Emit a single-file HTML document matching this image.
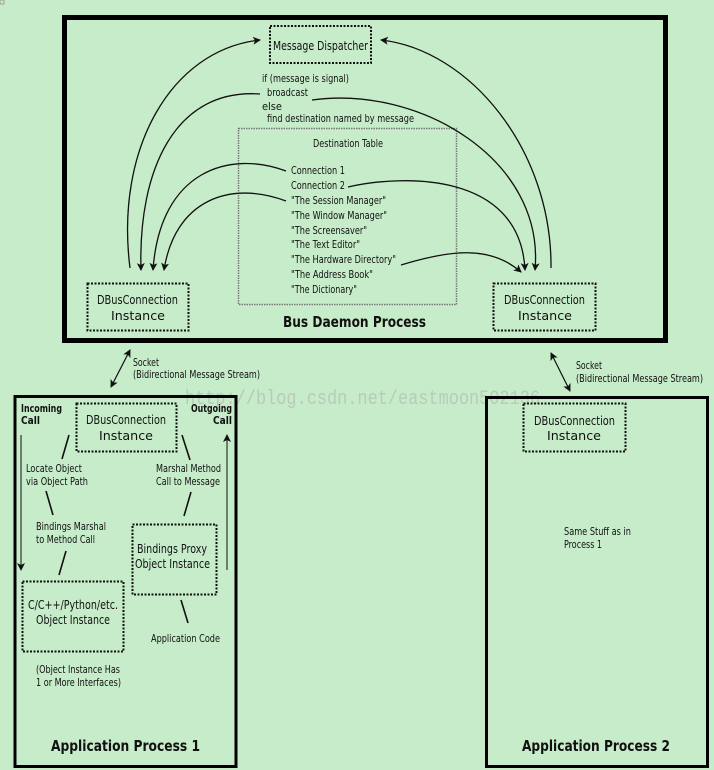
<!DOCTYPE html>
<html><head><meta charset="utf-8"><style>
html,body{margin:0;padding:0;background:#c7ecca;}
svg{display:block}
text{font-family:"DejaVu Sans","Liberation Sans",sans-serif;fill:#111;}
</style></head><body>
<svg width="714" height="770" viewBox="0 0 714 770" xmlns="http://www.w3.org/2000/svg">
<defs>
<marker id="a" markerWidth="8" markerHeight="8" refX="7" refY="4" orient="auto-start-reverse" markerUnits="userSpaceOnUse">
<path d="M0,0 L8,4 L0,8 L2,4 Z" fill="#111"/></marker>
</defs>
<rect width="714" height="770" fill="#c7ecca"/>
<rect x="0" y="0" width="4" height="4" fill="none" stroke="#888" stroke-width="0.7"/>
<!-- Bus daemon -->
<rect x="64.5" y="17.5" width="601" height="323" fill="none" stroke="#000" stroke-width="5"/>
<rect x="270" y="26" width="101" height="37" fill="none" stroke="#111" stroke-width="2" stroke-dasharray="2,1.5"/>
<text x="273" y="50" font-size="12.5" textLength="95" lengthAdjust="spacingAndGlyphs">Message Dispatcher</text>
<g font-size="10.5">
<text x="262" y="82" textLength="87" lengthAdjust="spacingAndGlyphs">if (message is signal)</text>
<text x="267" y="96" textLength="41" lengthAdjust="spacingAndGlyphs">broadcast</text>
<text x="262" y="110" textLength="20" lengthAdjust="spacingAndGlyphs">else</text>
<text x="267" y="122" textLength="147" lengthAdjust="spacingAndGlyphs">find destination named by message</text>
</g>
<rect x="238.5" y="128.5" width="218" height="176" fill="none" stroke="#777" stroke-width="1.5" stroke-dasharray="1.5,1"/>
<text x="313" y="147" font-size="10.5" textLength="70" lengthAdjust="spacingAndGlyphs">Destination Table</text>
<g font-size="10.5">
<text x="291" y="174" textLength="54" lengthAdjust="spacingAndGlyphs">Connection 1</text>
<text x="291" y="189" textLength="54" lengthAdjust="spacingAndGlyphs">Connection 2</text>
<text x="291" y="204" textLength="95" lengthAdjust="spacingAndGlyphs">"The Session Manager"</text>
<text x="291" y="219" textLength="96" lengthAdjust="spacingAndGlyphs">"The Window Manager"</text>
<text x="291" y="234" textLength="76" lengthAdjust="spacingAndGlyphs">"The Screensaver"</text>
<text x="291" y="248" textLength="69" lengthAdjust="spacingAndGlyphs">"The Text Editor"</text>
<text x="291" y="263" textLength="105" lengthAdjust="spacingAndGlyphs">"The Hardware Directory"</text>
<text x="291" y="278" textLength="82" lengthAdjust="spacingAndGlyphs">"The Address Book"</text>
<text x="291" y="293" textLength="66" lengthAdjust="spacingAndGlyphs">"The Dictionary"</text>
</g>
<rect x="87.5" y="283.5" width="101" height="47" fill="none" stroke="#111" stroke-width="2" stroke-dasharray="2,1.5"/>
<text x="97" y="304" font-size="12" textLength="81" lengthAdjust="spacingAndGlyphs">DBusConnection</text>
<text x="111" y="320" font-size="12" textLength="54" lengthAdjust="spacingAndGlyphs">Instance</text>
<rect x="493.5" y="283.5" width="102" height="47" fill="none" stroke="#111" stroke-width="2" stroke-dasharray="2,1.5"/>
<text x="504" y="304" font-size="12" textLength="81" lengthAdjust="spacingAndGlyphs">DBusConnection</text>
<text x="518" y="320" font-size="12" textLength="54" lengthAdjust="spacingAndGlyphs">Instance</text>
<text x="283" y="327" font-size="15" font-weight="bold" textLength="143" lengthAdjust="spacingAndGlyphs">Bus Daemon Process</text>
<g fill="none" stroke="#111" stroke-width="1.3">
<path d="M130,268 C115,150 170,50 260,40" marker-end="url(#a)"/>
<path d="M551,268 C552,150 470,50 381,40" marker-end="url(#a)"/>
<path d="M260,94 C175,88 138,170 141,270" marker-end="url(#a)"/>
<path d="M312,100 C420,85 545,160 535,270" marker-end="url(#a)"/>
<path d="M286,171 C230,150 160,170 153,270" marker-end="url(#a)"/>
<path d="M286,201 C230,180 175,200 164,270" marker-end="url(#a)"/>
<path d="M348,187 C400,175 520,170 525,270" marker-end="url(#a)"/>
<path d="M401,265 C450,250 490,245 521,272" marker-end="url(#a)"/>
</g>
<!-- sockets -->
<path d="M111,387 L130,350" stroke="#111" stroke-width="1.2" marker-end="url(#a)" marker-start="url(#a)" fill="none"/>
<text x="133" y="366" font-size="10.5" textLength="26" lengthAdjust="spacingAndGlyphs">Socket</text>
<text x="133" y="378" font-size="10.5" textLength="127" lengthAdjust="spacingAndGlyphs">(Bidirectional Message Stream)</text>
<path d="M570,391 L551,353" stroke="#111" stroke-width="1.2" marker-end="url(#a)" marker-start="url(#a)" fill="none"/>
<text x="576" y="369" font-size="10.5" textLength="26" lengthAdjust="spacingAndGlyphs">Socket</text>
<text x="576" y="382" font-size="10.5" textLength="127" lengthAdjust="spacingAndGlyphs">(Bidirectional Message Stream)</text>
<text x="185" y="404" font-size="20" textLength="355" lengthAdjust="spacingAndGlyphs" style="font-family:'Liberation Mono','DejaVu Sans Mono',monospace;fill:#b8cbb9">http://blog.csdn.net/eastmoon502136</text>
<!-- App process 1 -->
<rect x="15" y="396.5" width="221" height="370" fill="none" stroke="#000" stroke-width="3"/>
<g font-size="11" font-weight="bold">
<text x="21" y="412" textLength="41" lengthAdjust="spacingAndGlyphs">Incoming</text>
<text x="21" y="424" textLength="19" lengthAdjust="spacingAndGlyphs">Call</text>
<text x="191" y="412" textLength="41" lengthAdjust="spacingAndGlyphs">Outgoing</text>
<text x="213" y="424" textLength="19" lengthAdjust="spacingAndGlyphs">Call</text>
</g>
<rect x="76.5" y="403.5" width="100" height="48" fill="none" stroke="#111" stroke-width="2" stroke-dasharray="2,1.5"/>
<text x="86" y="424" font-size="12" textLength="80" lengthAdjust="spacingAndGlyphs">DBusConnection</text>
<text x="99" y="440" font-size="12" textLength="54" lengthAdjust="spacingAndGlyphs">Instance</text>
<path d="M21,435 L21,570" stroke="#111" stroke-width="1" marker-end="url(#a)"/>
<path d="M227,570 L227,435" stroke="#111" stroke-width="1" marker-end="url(#a)"/>
<g stroke="#111" stroke-width="1.6"><line x1="69" y1="435" x2="62" y2="459"/><line x1="46" y1="491" x2="53" y2="515"/><line x1="66" y1="551" x2="59" y2="575"/><line x1="182" y1="435" x2="190" y2="460"/><line x1="191" y1="492" x2="184" y2="516"/><line x1="181" y1="600" x2="188" y2="623"/></g>
<g font-size="10.5">
<text x="26" y="472" textLength="56" lengthAdjust="spacingAndGlyphs">Locate Object</text>
<text x="26" y="485" textLength="62" lengthAdjust="spacingAndGlyphs">via Object Path</text>
<text x="36" y="530" textLength="70" lengthAdjust="spacingAndGlyphs">Bindings Marshal</text>
<text x="36" y="543" textLength="59" lengthAdjust="spacingAndGlyphs">to Method Call</text>
<text x="156" y="472" textLength="65" lengthAdjust="spacingAndGlyphs">Marshal Method</text>
<text x="156" y="485" textLength="64" lengthAdjust="spacingAndGlyphs">Call to Message</text>
<text x="151" y="642" textLength="69" lengthAdjust="spacingAndGlyphs">Application Code</text>
<text x="36" y="673" textLength="84" lengthAdjust="spacingAndGlyphs">(Object Instance Has</text>
<text x="36" y="686" textLength="85" lengthAdjust="spacingAndGlyphs">1 or More Interfaces)</text>
</g>
<rect x="132.5" y="524.5" width="84" height="70" fill="none" stroke="#111" stroke-width="2" stroke-dasharray="2,1.5"/>
<text x="137" y="553" font-size="12" textLength="70" lengthAdjust="spacingAndGlyphs">Bindings Proxy</text>
<text x="135" y="568" font-size="12" textLength="75" lengthAdjust="spacingAndGlyphs">Object Instance</text>
<rect x="22.5" y="581.5" width="101" height="70" fill="none" stroke="#111" stroke-width="2" stroke-dasharray="2,1.5"/>
<text x="28" y="609" font-size="12" textLength="90" lengthAdjust="spacingAndGlyphs">C/C++/Python/etc.</text>
<text x="36" y="624" font-size="12" textLength="74" lengthAdjust="spacingAndGlyphs">Object Instance</text>
<text x="51" y="751" font-size="15" font-weight="bold" textLength="149" lengthAdjust="spacingAndGlyphs">Application Process 1</text>
<!-- App process 2 -->
<rect x="486.5" y="397.5" width="221" height="369" fill="none" stroke="#000" stroke-width="3"/>
<rect x="523.5" y="403.5" width="102" height="48" fill="none" stroke="#111" stroke-width="2" stroke-dasharray="2,1.5"/>
<text x="534" y="425" font-size="12" textLength="81" lengthAdjust="spacingAndGlyphs">DBusConnection</text>
<text x="547" y="440" font-size="12" textLength="54" lengthAdjust="spacingAndGlyphs">Instance</text>
<text x="564" y="535" font-size="10.5" textLength="67" lengthAdjust="spacingAndGlyphs">Same Stuff as in</text>
<text x="564" y="548" font-size="10.5" textLength="38" lengthAdjust="spacingAndGlyphs">Process 1</text>
<text x="522" y="751" font-size="15" font-weight="bold" textLength="148" lengthAdjust="spacingAndGlyphs">Application Process 2</text>
</svg>
</body></html>
